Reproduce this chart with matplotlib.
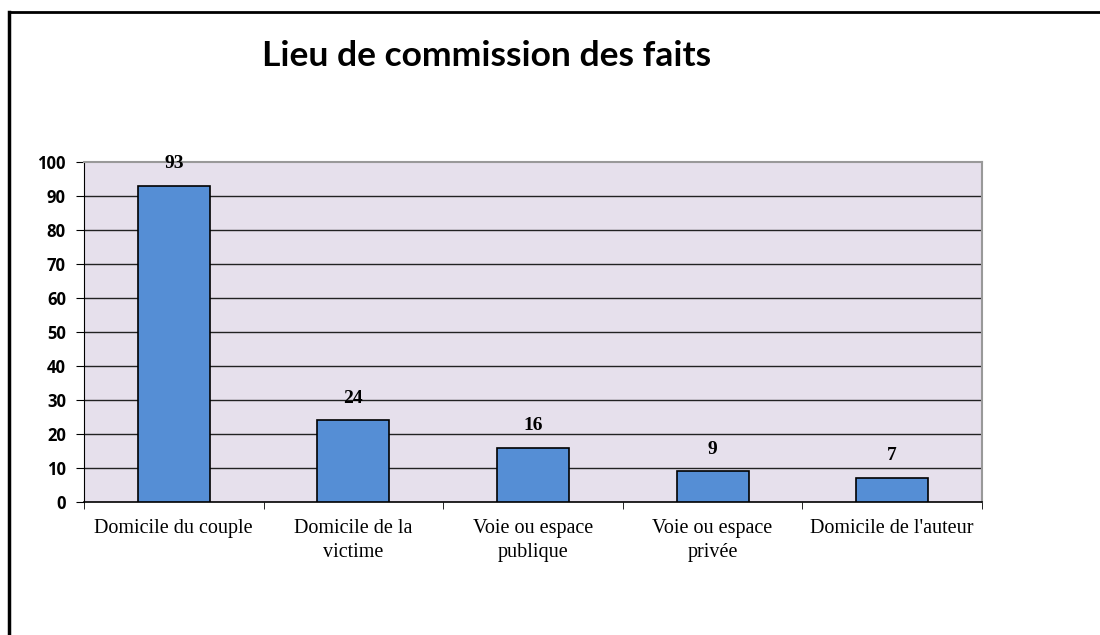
import matplotlib

matplotlib.use("Agg")
import matplotlib.pyplot as plt
import numpy as np
from matplotlib.lines import Line2D

categories = ["Domicile du couple", "Domicile de la\nvictime", "Voie ou espace\npublique",
              "Voie ou espace\nprivée", "Domicile de l'auteur"]
values = [93, 24, 16, 9, 7]
yticks = [0, 10, 20, 30, 40, 50, 60, 70, 80, 90, 100]
title = "Lieu de commission des faits"

W, H = 1100, 635
fig = plt.figure(figsize=(W / 100, H / 100), dpi=100)
ax = fig.add_axes([84 / W, 1 - 502 / H, (982 - 84) / W, (502 - 162) / H])

x = np.arange(len(categories))
ax.set_facecolor("#E6E0EC")
ax.bar(x, values, width=0.4, color="#558ED5", edgecolor="black", linewidth=1.2, zorder=3)
ax.set_xlim(-0.5, len(categories) - 0.5)
ax.set_ylim(0, 100)

for v in yticks[1:-1]:
    ax.axhline(v, color="#222222", linewidth=1.0, zorder=1)

for xi, v in zip(x, values):
    ax.annotate(str(v), (xi, v), xytext=(0, 10), textcoords="offset points",
                ha="center", va="bottom", fontsize=14, fontweight="bold",
                family="Liberation Serif")

ax.set_yticks(yticks)
ax.set_yticklabels([str(t) for t in yticks], fontsize=12, fontweight="bold", family="Open Sans")
ax.set_xticks(x)
ax.set_xticklabels(categories, fontsize=14.5, family="Liberation Serif", linespacing=1.4)
ax.tick_params(axis="x", length=0, pad=12)
ax.set_xticks(np.arange(-0.5, len(categories)), minor=True)
ax.tick_params(axis="x", which="minor", length=5, direction="out", color="black")
ax.tick_params(axis="y", length=6, direction="out", color="black", pad=7)

for side in ("top", "right"):
    ax.spines[side].set_color("#999999")
    ax.spines[side].set_linewidth(1.5)
ax.spines["left"].set_color("black")
ax.spines["bottom"].set_color("black")
ax.spines["bottom"].set_linewidth(1.2)

fig.text(487 / W, 1 - 56 / H, title, ha="center", va="center", fontsize=25.5,
         fontweight="bold", family="Lato")

# outer chart frame (top and left edges visible)
fig.add_artist(Line2D([9 / W, 1], [1 - 12 / H, 1 - 12 / H], color="black", linewidth=2,
                      transform=fig.transFigure))
fig.add_artist(Line2D([9 / W, 9 / W], [0, 1 - 12 / H], color="black", linewidth=2.5,
                      transform=fig.transFigure))

fig.savefig("out.png", dpi=100)
